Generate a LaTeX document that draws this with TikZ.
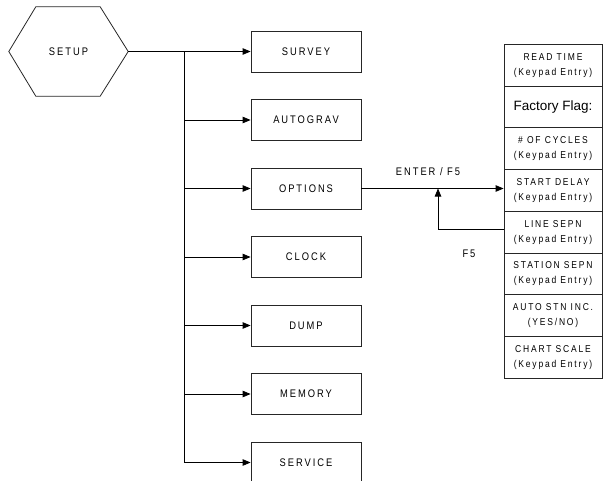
\documentclass[tikz,border=0pt]{standalone}
\usepackage{fontspec}
\setmainfont{Liberation Sans}
\newfontfamily\spc[LetterSpace=18,FakeStretch=0.85]{Liberation Sans}
\newfontfamily\plain{Liberation Sans}
\usetikzlibrary{arrows.meta}
\begin{document}
\begin{tikzpicture}[x=1pt,y=-1pt,
  lbl/.style={font=\spc\fontsize{11}{13}\selectfont},
  menubox/.style={draw=black!85,line width=0.8pt,minimum width=110pt,minimum height=41pt,inner sep=0pt,lbl},
  row/.style={draw=black!85,line width=0.8pt,minimum width=98pt,minimum height=41.7pt,inner sep=0pt,align=center,font=\spc\fontsize{10}{15}\selectfont},
  arr/.style={line width=0.8pt,-{Triangle[length=8pt,width=6.5pt]}},
  ln/.style={line width=0.8pt}]
\useasboundingbox (0,0) rectangle (608,480);
% hexagon
\node[minimum width=119pt,minimum height=89pt,inner sep=0pt,lbl] (setup) at (68.5,51.5) {SETUP};
\draw[line width=0.8pt,black!85] (setup.west) -- ([xshift=27pt]setup.north west) -- ([xshift=-28pt]setup.north east) -- (setup.east) -- ([xshift=-28pt]setup.south east) -- ([xshift=27pt]setup.south west) -- cycle;
% menu boxes
\node[menubox] (survey) at (306,51.5) {SURVEY};
\node[menubox] (autograv) at (306,120) {AUTOGRAV};
\node[menubox] (options) at (306,188.5) {OPTIONS};
\node[menubox] (clock) at (306,257) {CLOCK};
\node[menubox] (dump) at (306,325.5) {DUMP};
\node[menubox] (memory) at (306,394) {MEMORY};
\node[menubox] (service) at (306,462.5) {SERVICE};
% bus
\coordinate (bt) at (184,51.5);
\coordinate (bb) at (184,462.5);
\draw[ln] (setup.east) -- (bt);
\draw[ln] (bt) -- (bb);
\draw[arr] (bt) -- (survey.west);
\draw[arr] (bt |- autograv.west) -- (autograv.west);
\draw[arr] (bt |- options.west) -- (options.west);
\draw[arr] (bt |- clock.west) -- (clock.west);
\draw[arr] (bt |- dump.west) -- (dump.west);
\draw[arr] (bt |- memory.west) -- (memory.west);
\draw[arr] (bb) -- (service.west);
% stack
\node[row] (r1) at (553,65.3) {READ TIME\\(Keypad Entry)};
\node[row,font=\plain\fontsize{13.5}{15}\selectfont] (r2) at (553,107) {Factory Flag:};
\node[row] (r3) at (553,148.7) {\# OF CYCLES\\(Keypad Entry)};
\node[row] (r4) at (553,190.4) {START DELAY\\(Keypad Entry)};
\node[row] (r5) at (553,232.1) {LINE SEPN\\(Keypad Entry)};
\node[row] (r6) at (553,273.8) {STATION SEPN\\(Keypad Entry)};
\node[row] (r7) at (553,315.5) {AUTO STN INC.\\(YES/NO)};
\node[row] (r8) at (553,357.2) {CHART SCALE\\(Keypad Entry)};
% options links
\draw[arr] (options.east) -- (options.east -| r4.west);
\coordinate (fb) at (438,229.5);
\draw[arr] (r5.west |- fb) -- (fb) -- (fb |- options.east);
\node[lbl] (enter) at (428,172) {ENTER / F5};
\node[lbl] (f5) at (469,254) {F5};
\end{tikzpicture}
\end{document}
